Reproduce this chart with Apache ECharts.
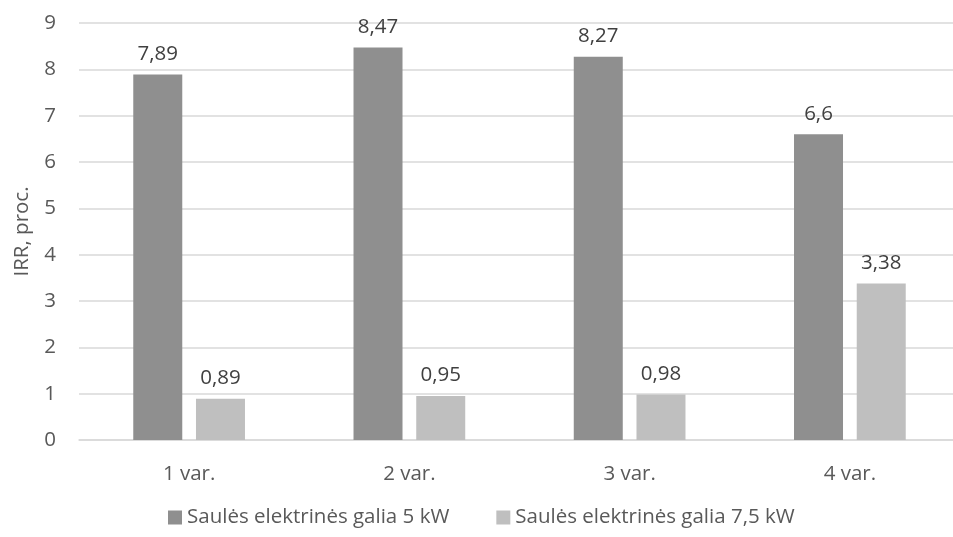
<!DOCTYPE html>
<html>
<head>
<meta charset="utf-8">
<script src="https://cdn.jsdelivr.net/npm/echarts@6/dist/echarts.min.js"></script>
<style>
  html, body { margin: 0; padding: 0; background: #ffffff; }
  #chart { width: 953px; height: 537px; }
</style>
</head>
<body>
<div id="chart"></div>
<script>
// Categories and IRR values (percent) for the two solar plant sizes
const categories = ['1 var.', '2 var.', '3 var.', '4 var.'];
const seriesNames = ['Saulės elektrinės galia 5 kW', 'Saulės elektrinės galia 7,5 kW'];
const irr5kW = [7.89, 8.47, 8.27, 6.6];
const irr75kW = [0.89, 0.95, 0.98, 3.38];
const yTicks = [0, 1, 2, 3, 4, 5, 6, 7, 8, 9];

const FONT = '"Open Sans", "Noto Sans", sans-serif';
const TEXT = '#595959';
const FS = 20.5;

const chart = echarts.init(document.getElementById('chart'), null, { renderer: 'canvas' });

const commaFmt = p => String(p.value).replace('.', ',');

function barSeries(name, data, color) {
  return {
    name: name,
    type: 'bar',
    data: data,
    barWidth: 49,
    barGap: '28%',
    itemStyle: { color: color },
    label: {
      show: true,
      position: 'top',
      distance: 10,
      color: '#404040',
      fontFamily: FONT,
      fontSize: FS,
      formatter: commaFmt
    },
    emphasis: { disabled: true }
  };
}

chart.setOption({
  animation: false,
  // the plot area runs a little past the right edge of the canvas
  grid: {
    left: 79, width: 881, top: 23, bottom: 97,
    containLabel: false,
    outerBoundsMode: 'none'
  },
  xAxis: {
    type: 'category',
    data: categories,
    axisTick: { show: false },
    axisLine: { show: true, lineStyle: { color: '#d9d9d9', width: 1.5 } },
    axisLabel: { color: TEXT, fontFamily: FONT, fontSize: FS, margin: 24 }
  },
  yAxis: {
    type: 'value',
    min: yTicks[0],
    max: yTicks[yTicks.length - 1],
    interval: 1,
    name: 'IRR, proc.',
    nameLocation: 'middle',
    nameGap: 46,
    nameTextStyle: { color: TEXT, fontFamily: FONT, fontSize: FS },
    axisLine: { show: false },
    axisTick: { show: false },
    axisLabel: { color: TEXT, fontFamily: FONT, fontSize: FS, margin: 23 },
    splitLine: { lineStyle: { color: '#d9d9d9', width: 1.5 } }
  },
  legend: {
    bottom: 4,
    left: 163,
    itemWidth: 14,
    itemHeight: 14,
    itemGap: 47,
    icon: 'rect',
    textStyle: { color: TEXT, fontFamily: FONT, fontSize: FS },
    data: seriesNames
  },
  series: [
    barSeries(seriesNames[0], irr5kW, '#8f8f8f'),
    barSeries(seriesNames[1], irr75kW, '#bfbfbf')
  ]
});
</script>
</body>
</html>
